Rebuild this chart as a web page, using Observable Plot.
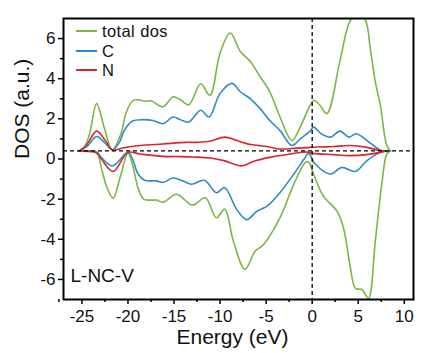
<!DOCTYPE html>
<html><head><meta charset="utf-8">
<script src="https://cdn.jsdelivr.net/npm/d3@7"></script>
<script src="https://cdn.jsdelivr.net/npm/@observablehq/plot@0.6"></script>
<style>
body{margin:0;background:#fff;}
#wrap{position:relative;width:424px;height:353px;font-family:"Liberation Sans",Arial,sans-serif;}
.leg{position:absolute;left:76px;font-size:16.5px;line-height:18px;height:18px;color:#111;display:flex;align-items:center;white-space:nowrap;letter-spacing:0.4px;}
.leg .sw{display:inline-block;width:21px;height:0;border-top:2px solid;margin-right:5px;}
</style></head><body><div id="wrap"></div>
<script>
// Series: [energy (eV), DOS]
const totalUp = [[-25.3,0.4],[-24.8,0.55],[-24.2,1.2],[-23.4,2.76],[-22.6,1.6],[-21.7,0.45],[-20.8,1.2],[-20.2,2.3],[-19.5,2.9],[-18.8,2.95],[-18.2,2.88],[-17.5,2.9],[-16.2,2.6],[-15.1,3.1],[-14.3,2.95],[-13.4,2.7],[-12.1,3.75],[-11.1,3.18],[-10.0,5.28],[-8.9,6.28],[-7.8,5.36],[-6.7,4.85],[-5.65,4.1],[-4.6,3.35],[-3.5,2.1],[-2.2,0.92],[-1.3,1.59],[-0.2,2.7],[0.2,2.93],[0.8,2.7],[1.6,2.26],[3.0,4.85],[4.1,6.86],[5.0,7.25],[5.8,6.9],[6.3,5.53],[6.85,3.85],[7.4,2.68],[8.1,0.67],[8.5,0.4]];
const totalDown = [[-25.3,0.4],[-24.5,0.38],[-23.4,0.3],[-22.9,-0.42],[-22.3,-1.4],[-21.6,-1.95],[-20.9,-1.0],[-20.0,0.3],[-19.5,-0.3],[-18.9,-1.45],[-18.3,-2.0],[-17.5,-2.05],[-16.9,-2.05],[-16.2,-2.15],[-14.7,-1.76],[-13.0,-2.3],[-11.6,-1.93],[-10.4,-2.93],[-9.5,-2.5],[-8.55,-4.1],[-7.3,-5.5],[-6.2,-4.6],[-5.3,-4.27],[-3.5,-2.93],[-2.0,-1.26],[-0.8,-0.2],[-0.4,-0.15],[0.15,-0.75],[1.2,-1.84],[2.7,-2.6],[3.4,-3.44],[4.1,-5.28],[4.7,-6.45],[5.4,-6.5],[6.1,-6.95],[6.85,-4.1],[7.6,-1.09],[8.1,0.25],[8.5,0.4]];
const cUp = [[-25.3,0.4],[-24.5,0.6],[-23.4,1.12],[-22.5,0.8],[-21.7,0.45],[-20.9,0.85],[-20.4,1.42],[-19.5,1.89],[-18.4,1.96],[-17.3,1.92],[-16.2,1.76],[-15.1,2.09],[-14.3,1.95],[-13.4,1.84],[-12.1,2.43],[-11.2,2.09],[-10.0,3.27],[-8.7,3.77],[-7.8,3.35],[-6.7,3.0],[-5.65,2.51],[-4.6,1.92],[-3.5,1.42],[-2.2,0.67],[-1.3,1.0],[-0.2,1.4],[0.15,1.59],[1.0,1.25],[2.0,1.09],[3.0,1.39],[4.0,1.09],[4.8,1.26],[6.2,0.83],[7.6,0.4],[8.5,0.4]];
const cDown = [[-25.3,0.4],[-23.4,0.35],[-22.9,0.08],[-21.7,-0.34],[-20.0,0.33],[-19.5,0.0],[-18.9,-0.75],[-18.2,-1.06],[-16.9,-1.09],[-16.2,-1.17],[-15.1,-0.95],[-14.0,-1.1],[-13.1,-1.26],[-11.7,-1.06],[-10.4,-1.68],[-9.5,-1.43],[-8.2,-2.51],[-7.1,-3.02],[-6.0,-2.6],[-4.9,-2.35],[-3.5,-1.68],[-2.0,-0.75],[-0.8,0.05],[-0.4,0.28],[0.33,-0.25],[1.96,-0.75],[3.2,-0.42],[4.7,-0.62],[5.95,-0.08],[7.4,0.33],[8.0,0.4]];
const nUp = [[-25.3,0.4],[-24.5,0.7],[-23.4,1.39],[-22.5,0.95],[-21.7,0.45],[-20.6,0.55],[-18.7,0.67],[-16.2,0.75],[-13.7,0.83],[-12.5,0.83],[-11.1,0.88],[-9.5,1.09],[-8.2,0.92],[-6.7,0.72],[-4.9,0.62],[-3.5,0.5],[-2.0,0.53],[-0.2,0.58],[1.0,0.6],[2.3,0.62],[4.1,0.67],[5.95,0.58],[7.4,0.42],[8.0,0.4]];
const nDown = [[-25.3,0.4],[-23.4,0.3],[-22.9,0.0],[-21.6,-0.62],[-20.0,0.33],[-18.7,0.25],[-16.2,0.13],[-14.3,0.12],[-12.9,0.1],[-11.1,0.05],[-9.6,-0.08],[-7.6,-0.34],[-6.4,-0.12],[-4.6,0.08],[-2.4,0.25],[-0.6,0.35],[0.14,0.28],[2.3,0.22],[4.1,0.17],[5.95,0.22],[7.4,0.33],[8.0,0.4]];

const seriesNames = ["total dos", "C", "N"];
const seriesColors = ["#7ab648", "#2a8dc5", "#d9262c"];
const xMajor = [-25, -20, -15, -10, -5, 0, 5, 10];
const xMinor = [-27.5, -22.5, -17.5, -12.5, -7.5, -2.5, 2.5, 7.5];
const yMajor = [-6, -4, -2, 0, 2, 4, 6];
const yMinor = [-5, -3, -1, 1, 3, 5];
const fermiLevel = [0];
const baseline = [0.4];
const panelLabel = "L-NC-V";
const xLabel = "Energy (eV)";
const yLabel = "DOS (a.u.)";

const font = "Liberation Sans, Arial, sans-serif";
const lineOpts = (color) => ({x: d => d[0], y: d => d[1], stroke: color, strokeWidth: 1.6, curve: "catmull-rom", clip: true});

const plot = Plot.plot({
  width: 424, height: 353,
  marginLeft: 63, marginRight: 11, marginTop: 18, marginBottom: 54,
  x: {domain: [-27, 11]},
  y: {domain: [-7, 7]},
  style: {fontFamily: font, fontSize: "17px", color: "#111", background: "white", overflow: "visible"},
  marks: [
    Plot.line(totalUp, lineOpts(seriesColors[0])),
    Plot.line(totalDown, lineOpts(seriesColors[0])),
    Plot.line(cUp, lineOpts(seriesColors[1])),
    Plot.line(cDown, lineOpts(seriesColors[1])),
    Plot.line(nUp, lineOpts(seriesColors[2])),
    Plot.line(nDown, lineOpts(seriesColors[2])),
    Plot.ruleY(baseline, {stroke: "#000", strokeWidth: 1.3, strokeDasharray: "4,3"}),
    Plot.ruleX(fermiLevel, {stroke: "#000", strokeWidth: 1.3, strokeDasharray: "4,3"}),
    Plot.axisX(xMajor, {tickSize: 5, tickPadding: 5, tickFormat: d => String(d), label: null, fontSize: 17, strokeWidth: 1.5, stroke: "#000"}),
    Plot.axisX(xMinor, {tickSize: 3, tickFormat: () => "", label: null, strokeWidth: 1.5, stroke: "#000"}),
    Plot.axisY(yMajor, {tickSize: 5, tickPadding: 3, tickFormat: d => String(d), label: null, fontSize: 17, strokeWidth: 1.5, stroke: "#000"}),
    Plot.axisY(yMinor, {tickSize: 3, tickFormat: () => "", label: null, strokeWidth: 1.5, stroke: "#000"}),
    Plot.frame({stroke: "#000", strokeWidth: 2}),
    Plot.text([xLabel], {frameAnchor: "bottom", dy: 44, dx: -6, fontSize: 21, fill: "#111"}),
    Plot.text([yLabel], {frameAnchor: "left", rotate: -90, dx: -41, fontSize: 21, fill: "#111"}),
    Plot.text([panelLabel], {frameAnchor: "bottom-left", textAnchor: "start", dx: 7, dy: -18, fontSize: 19, fill: "#111"})
  ]
});
const wrap = document.getElementById("wrap");
wrap.appendChild(plot);
seriesNames.forEach((name, i) => {
  const row = document.createElement("div");
  row.className = "leg";
  row.style.top = (22 + i * 19.5) + "px";
  const sw = document.createElement("span");
  sw.className = "sw";
  sw.style.borderColor = seriesColors[i];
  row.appendChild(sw);
  row.appendChild(document.createTextNode(name));
  wrap.appendChild(row);
});
</script>
</body></html>
